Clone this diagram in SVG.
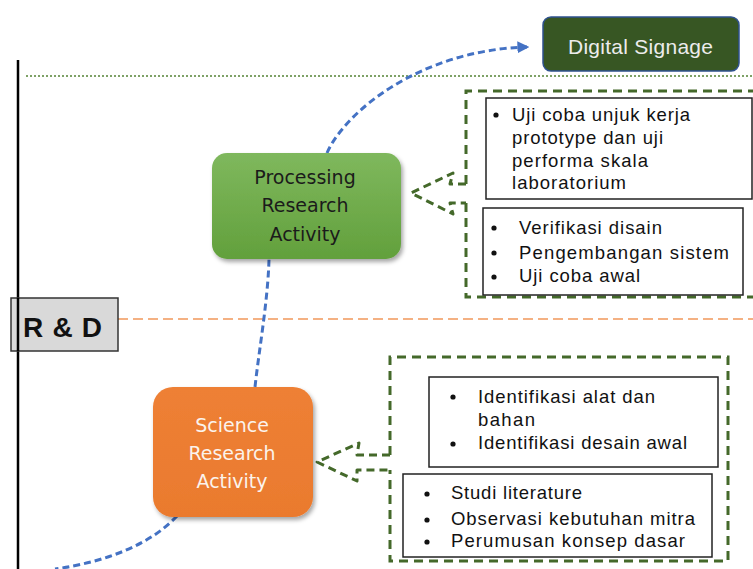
<svg xmlns="http://www.w3.org/2000/svg" width="753" height="569" viewBox="0 0 753 569">
  <defs>
    <linearGradient id="gradGreen" x1="0" y1="0" x2="0" y2="1">
      <stop offset="0" stop-color="#7fb85d"/>
      <stop offset="1" stop-color="#62a03c"/>
    </linearGradient>
    <linearGradient id="gradOrange" x1="0" y1="0" x2="0" y2="1">
      <stop offset="0" stop-color="#ee8035"/>
      <stop offset="1" stop-color="#ea7a2e"/>
    </linearGradient>
    <filter id="shadow" x="-10%" y="-10%" width="130%" height="130%">
      <feDropShadow dx="2" dy="3" stdDeviation="2" flood-color="#000" flood-opacity="0.35"/>
    </filter>
    <marker id="blueHead" viewBox="0 0 10 10" refX="8" refY="5" markerWidth="4" markerHeight="4" orient="auto" markerUnits="strokeWidth">
      <path d="M0,0 L10,5 L0,10 z" fill="#4472c4"/>
    </marker>
    <style>
      .body { font-family: "Liberation Sans", Arial, sans-serif; font-size: 18.5px; fill: #111; }
      .bullet { fill: #111; }
      .panel { fill: #fff; stroke: #222; stroke-width: 1.5; }
      .frame { fill: none; stroke: #44692a; stroke-width: 3; stroke-dasharray: 9 6; }
      .callout { fill: none; stroke: #44692a; stroke-width: 3; stroke-dasharray: 8 5; stroke-linejoin: round; }
      .flow { fill: none; stroke: #4472c4; stroke-width: 3; stroke-dasharray: 7 4; }
      .hand { font-family: "DejaVu Sans", sans-serif; font-size: 19px; text-anchor: middle; }
    </style>
  </defs>

  <rect width="753" height="569" fill="#fff"/>

  <!-- axis and stage separators -->
  <g id="axis">
    <line x1="18" y1="60" x2="18" y2="569" stroke="#000" stroke-width="2.5"/>
    <line x1="26" y1="76" x2="753" y2="76" stroke="#548235" stroke-width="1.5" stroke-dasharray="2 2"/>
    <line x1="118" y1="319" x2="753" y2="319" stroke="#f4b183" stroke-width="2" stroke-dasharray="10 5"/>
  </g>

  <!-- connectors -->
  <g id="connectors">
    <path class="flow" d="M177,516 C150,545 105,562 55,569"/>
    <path class="flow" d="M255,387 C259,350 268,300 269,259"/>
    <path class="flow" d="M327,153 C345,112 420,50 527,47" marker-end="url(#blueHead)"/>
    <path class="callout" d="M466,184 H450 L453,173 L411,193 L453,214 L450,203 H466"/>
    <path class="callout" d="M390,455 H357 L359,443 L317,462 L357,481 L357,470 H390"/>
  </g>

  <!-- R & D stage label -->
  <g id="rnd-label">
    <rect x="11" y="298" width="107" height="53" fill="#d9d9d9" stroke="#333" stroke-width="1.5"/>
    <line x1="18" y1="298" x2="18" y2="351" stroke="#000" stroke-width="2.5"/>
    <text x="23" y="337" font-family="Liberation Sans, Arial, sans-serif" font-weight="bold" font-size="28" fill="#111" textLength="79" lengthAdjust="spacing">R &amp; D</text>
  </g>

  <!-- output -->
  <g id="digital-signage">
    <rect x="543" y="17" width="196" height="54" rx="8" fill="#375623" stroke="#2f528f" stroke-width="1.5"/>
    <text x="568" y="54" font-family="Liberation Sans, Arial, sans-serif" font-size="21" fill="#ececec" textLength="145" lengthAdjust="spacing">Digital Signage</text>
  </g>

  <!-- processing stage -->
  <g id="processing-activity">
    <rect x="212" y="153" width="189" height="106" rx="15" fill="url(#gradGreen)" filter="url(#shadow)"/>
    <text class="hand" x="305" y="184" fill="#1b1b1b">Processing</text>
    <text class="hand" x="305" y="212" fill="#1b1b1b">Research</text>
    <text class="hand" x="305" y="241" fill="#1b1b1b">Activity</text>
  </g>

  <g id="processing-details">
    <path class="frame" d="M466,184 V91 H770 M466,203 V297 H770"/>
    <rect class="panel" x="486" y="98" width="266" height="101"/>
    <circle class="bullet" cx="496" cy="115" r="2.6"/>
    <text class="body" x="512" y="121" textLength="178" lengthAdjust="spacing">Uji coba unjuk kerja</text>
    <text class="body" x="512" y="144" textLength="151" lengthAdjust="spacing">prototype dan uji</text>
    <text class="body" x="512" y="167" textLength="136" lengthAdjust="spacing">performa skala</text>
    <text class="body" x="512" y="189" textLength="114" lengthAdjust="spacing">laboratorium</text>

    <rect class="panel" x="483" y="208" width="260" height="87"/>
    <circle class="bullet" cx="494" cy="228" r="2.6"/>
    <circle class="bullet" cx="494" cy="253" r="2.6"/>
    <circle class="bullet" cx="494" cy="277" r="2.6"/>
    <text class="body" x="519" y="234" textLength="143" lengthAdjust="spacing">Verifikasi disain</text>
    <text class="body" x="519" y="259" textLength="210" lengthAdjust="spacing">Pengembangan sistem</text>
    <text class="body" x="519" y="282" textLength="121" lengthAdjust="spacing">Uji coba awal</text>
  </g>

  <!-- science stage -->
  <g id="science-activity">
    <rect x="153" y="387" width="160" height="130" rx="20" fill="url(#gradOrange)" filter="url(#shadow)"/>
    <text class="hand" x="232" y="432" fill="#fbf3ec">Science</text>
    <text class="hand" x="232" y="460" fill="#fbf3ec">Research</text>
    <text class="hand" x="232" y="488" fill="#fbf3ec">Activity</text>
  </g>

  <g id="science-details">
    <path class="frame" d="M390,455 V357 H728 V561 H390 V470"/>
    <rect class="panel" x="429" y="377" width="289" height="90"/>
    <circle class="bullet" cx="453" cy="397" r="2.6"/>
    <circle class="bullet" cx="453" cy="444" r="2.6"/>
    <text class="body" x="478" y="403" textLength="177" lengthAdjust="spacing">Identifikasi alat dan</text>
    <text class="body" x="478" y="426" textLength="57" lengthAdjust="spacing">bahan</text>
    <text class="body" x="478" y="449" textLength="209" lengthAdjust="spacing">Identifikasi desain awal</text>

    <rect class="panel" x="403" y="474" width="309" height="83"/>
    <circle class="bullet" cx="427" cy="494" r="2.6"/>
    <circle class="bullet" cx="427" cy="520" r="2.6"/>
    <circle class="bullet" cx="427" cy="542" r="2.6"/>
    <text class="body" x="451" y="499" textLength="131" lengthAdjust="spacing">Studi literature</text>
    <text class="body" x="451" y="525" textLength="244" lengthAdjust="spacing">Observasi kebutuhan mitra</text>
    <text class="body" x="451" y="547" textLength="234" lengthAdjust="spacing">Perumusan konsep dasar</text>
  </g>
</svg>
